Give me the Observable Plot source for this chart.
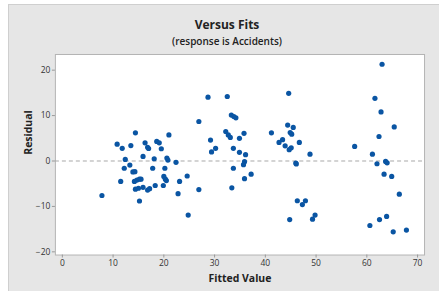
<!DOCTYPE html>
<html>
<head>
<meta charset="utf-8">
<script src="https://cdn.jsdelivr.net/npm/d3@7"></script>
<script src="https://cdn.jsdelivr.net/npm/@observablehq/plot@0.6"></script>
<style>
  html, body { margin: 0; padding: 0; background: #ffffff; }
  #fig { position: absolute; left: 8px; top: 4px; width: 431px; height: 287px; background: #e6e6e6;
         border-top: 1px solid #cfcfcf; border-left: 1px solid #cfcfcf; box-sizing: border-box; overflow: hidden; }
  #title { position: absolute; left: 0; width: 436px; top: 11px; text-align: center; font-family: "Open Sans", "Noto Sans", sans-serif;
           font-weight: 700; font-size: 12px; color: #222; }
  #subtitle { position: absolute; left: 0; width: 436px; top: 29px; text-align: center; font-family: "Open Sans", "Noto Sans", sans-serif;
           font-weight: 600; font-size: 10px; color: #222; }
  #plot { position: absolute; left: -1px; top: 44px; }
</style>
</head>
<body>
<div id="fig">
  <div id="title">Versus Fits</div>
  <div id="subtitle">(response is Accidents)</div>
  <div id="plot"></div>
</div>
<script>
const fitted = [
  7.8, 14.4, 10.8, 11.8, 13.5, 16.3, 16.8, 17.0, 18.6, 19.1, 19.5, 21.0, 15.9, 12.4, 13.3, 12.2,
  13.9, 14.3, 18.1, 17.8, 20.6, 20.8, 22.4, 20.2, 20.0, 20.3, 20.5, 11.5, 14.2, 14.7, 15.2, 15.5,
  14.4, 15.0, 15.9, 16.8, 17.2, 18.3, 19.9, 15.2, 23.1, 24.6, 22.8, 24.8, 26.9, 26.9,
  28.7, 32.5, 33.3, 33.8, 34.2, 29.2, 29.4, 30.2, 32.2, 32.7, 33.1, 34.9, 35.8, 33.7, 34.9, 36.1,
  35.9, 35.7, 33.7, 35.9, 37.2, 33.4,
  41.2, 44.6, 44.4, 45.5, 44.9, 45.2, 42.7, 43.4, 43.9, 44.7, 45.1, 46.7, 48.8, 46.0, 46.1, 46.3,
  47.3, 47.9, 44.8, 49.3, 49.8,
  57.6, 63.0, 61.6, 62.8, 65.4, 62.4, 61.1, 62.0, 63.7, 64.0, 63.4, 64.9, 66.4, 63.9, 62.5, 60.6,
  65.2, 67.8
];
const residual = [
  -7.6, 6.2, 3.7, 2.8, 3.4, 4.0, 3.0, 2.75, 4.3, 4.0, 2.7, 5.75, 1.0, 0.35, -0.9, -1.6,
  -2.4, -2.35, 0.5, -1.6, 0.65, 0.2, -0.3, -1.6, -3.4, -4.0, -4.3, -4.5, -4.5, -4.2, -4.0, -4.0,
  -6.2, -6.0, -5.8, -6.4, -6.1, -5.4, -5.4, -8.8, -4.5, -3.3, -7.2, -11.9, 8.7, -6.3,
  14.05, 14.2, 10.1, 9.8, 9.5, 4.6, 2.0, 2.8, 6.5, 5.75, 5.2, 5.0, 6.1, 2.8, 1.9, 1.4,
  -0.15, -0.8, -1.6, -3.9, -2.9, -5.9,
  6.2, 14.9, 7.9, 7.4, 6.25, 5.9, 4.1, 4.7, 3.35, 2.5, 2.9, 4.1, 1.5, -0.45, -0.65, -8.75,
  -9.6, -8.75, -12.9, -12.8, -11.9,
  3.2, 21.3, 13.8, 10.8, 7.5, 5.4, 1.5, -0.6, -0.1, -0.4, -2.9, -3.4, -7.3, -12.2, -12.9, -14.2,
  -15.6, -15.2
];
const xTicks = [0, 10, 20, 30, 40, 50, 60, 70];
const yTicks = [-20, -10, 0, 10, 20];

const data = fitted.map((f, i) => ({fit: f, res: residual[i]}));

const font = "'Open Sans', 'Noto Sans', sans-serif";
const chart = Plot.plot({
  width: 432,
  height: 243,
  marginLeft: 47,
  marginRight: 15,
  marginTop: 5,
  marginBottom: 37,
  style: {background: "transparent", fontFamily: font, fontSize: "8.5px", color: "#333"},
  x: {domain: [-1.37, 71.37], ticks: xTicks, label: null},
  y: {domain: [-20.7, 23.45], ticks: yTicks, label: null},
  marks: [
    Plot.frame({fill: "white", stroke: "#b4b4b4"}),
    Plot.ruleY([0], {stroke: "#a8a8a8", strokeDasharray: "4,3", strokeWidth: 1}),
    Plot.axisX({ticks: xTicks, tickSize: 3, tickPadding: 2, stroke: "#999", fill: "#333", label: null}),
    Plot.axisY({ticks: yTicks, tickSize: 3, tickPadding: 2, stroke: "#999", fill: "#333", label: null}),
    Plot.dot(data, {x: "fit", y: "res", r: 2.6, fill: "#0a55a3", stroke: "none"}),
    Plot.text(["Fitted Value"], {frameAnchor: "bottom", dy: 24, lineAnchor: "middle", fontWeight: "bold", fontSize: 10.5, fill: "#222"}),
    Plot.text(["Residual"], {frameAnchor: "left", dx: -27, rotate: -90, lineAnchor: "middle", fontWeight: "bold", fontSize: 10.5, fill: "#222"})
  ]
});
document.getElementById("plot").appendChild(chart);
</script>
</body>
</html>
